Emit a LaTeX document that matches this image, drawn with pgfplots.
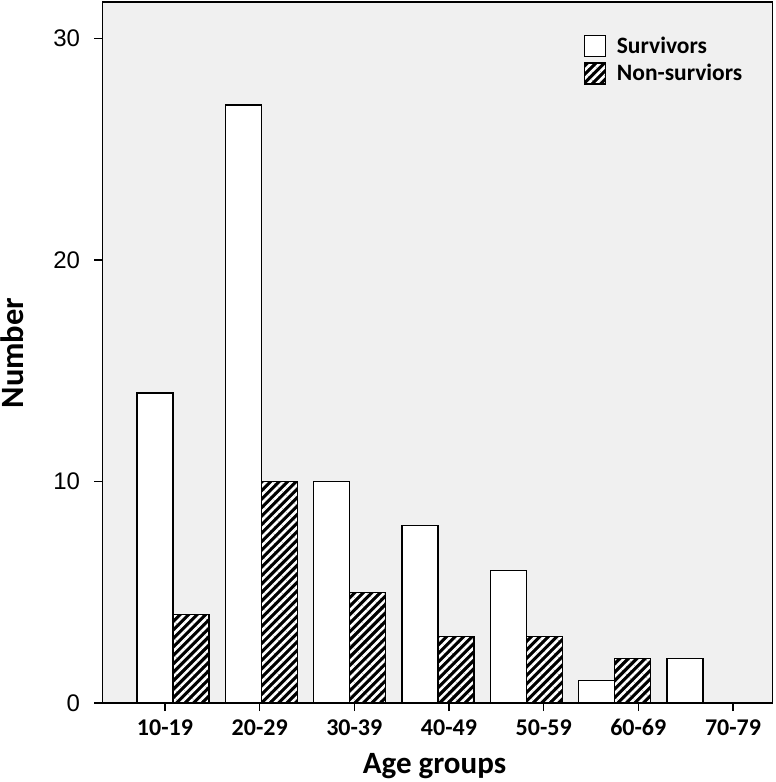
\documentclass[border=0pt]{standalone}
\usepackage{fontspec}
\setmainfont{Carlito}
\newfontfamily\arial{Liberation Sans}
\usepackage{pgfplots}
\pgfplotsset{compat=1.18}
\usetikzlibrary{patterns.meta,calc}
\definecolor{bg}{RGB}{240,240,240}
\begin{document}
\begin{tikzpicture}
\begin{axis}[
  scale only axis, width=670.2pt, height=701pt,
  xmin=102.5, xmax=772.7, ymin=0, ymax=31.65,
  axis background/.style={fill=bg},
  axis line style={line width=1.2pt, black},
  ybar=0pt, bar width=36pt,
  xtick={165,259.7,354.3,449,543.7,638.3,733},
  xticklabels={10-19,20-29,30-39,40-49,50-59,60-69,70-79},
  ytick={0,10,20,30},
  tick align=outside, xtick pos=bottom, ytick pos=left,
  major tick length=8pt,
  major tick style={line width=1.2pt, black},
  /pgf/number format/assume math mode=true,
  xticklabel style={font=\bfseries\fontsize{24}{24}\selectfont, anchor=base, yshift=-24pt},
  yticklabel style={font=\arial\fontsize{24}{24}\selectfont, xshift=-11pt},
  xlabel={Age groups},
  ylabel={Number},
  xlabel style={font=\bfseries\fontsize{31}{31}\selectfont, at={(rel axis cs:0.4954,-0.0999)}, anchor=base},
  ylabel style={font=\bfseries\fontsize{32.5}{32.5}\selectfont, at={(rel axis cs:-0.1186,0.4993)}, anchor=base},
  legend image code/.code={\draw[#1] (0pt,-10.5pt) rectangle (21pt,10.5pt);},
  legend style={at={(rel axis cs:0.7184,0.953)}, anchor=north west, draw=none, fill=none,
    font=\bfseries\fontsize{23.5}{23.5}\selectfont, inner sep=0pt, row sep=5pt,
    /tikz/every odd column/.append style={column sep=8.5pt}},
  legend cell align=left,
]
\coordinate (ll) at (rel axis cs:0,0);
\addplot[fill=white, draw=black, line width=1.2pt] coordinates {(173,14) (261.3,27) (349.7,10) (438,8) (526.3,6) (614.7,1) (703,2)};
\addplot[preaction={fill=black}, pattern={Lines[angle=45,distance=6pt,line width=2.6pt]}, pattern color=white, draw=black, line width=1.2pt] coordinates {(173,4) (261.3,10) (349.7,5) (438,3) (526.3,3) (614.7,2)};
\legend{Survivors, Non-surviors}
\end{axis}
\pgfresetboundingbox
\path ($(ll)+(-102.5pt,-79pt)$) rectangle ($(ll)+(673.5pt,703pt)$);
\end{tikzpicture}
\end{document}
